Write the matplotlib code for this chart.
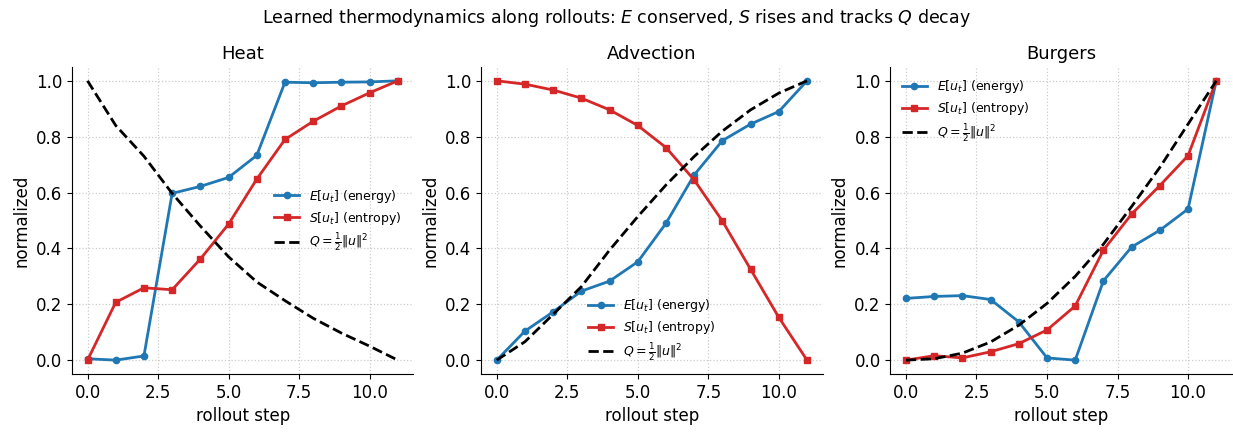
import numpy as np
import matplotlib
matplotlib.use("Agg")
import matplotlib.pyplot as plt

steps = np.arange(12)
titles = ["Heat", "Advection", "Burgers"]

heat_E = [0.005, 0.0, 0.015, 0.597, 0.622, 0.654, 0.733, 0.995, 0.993, 0.995, 0.996, 1.0]
heat_S = [0.0, 0.207, 0.259, 0.252, 0.362, 0.487, 0.648, 0.79, 0.855, 0.91, 0.957, 1.0]
heat_Q = [1.0, 0.84, 0.73, 0.597, 0.48, 0.37, 0.28, 0.213, 0.15, 0.097, 0.05, 0.0]

adv_E = [0.0, 0.104, 0.173, 0.247, 0.283, 0.352, 0.49, 0.663, 0.786, 0.845, 0.89, 1.0]
adv_S = [1.0, 0.988, 0.967, 0.938, 0.896, 0.84, 0.761, 0.645, 0.498, 0.325, 0.153, 0.0]
adv_Q = [0.0, 0.066, 0.164, 0.263, 0.394, 0.514, 0.627, 0.729, 0.82, 0.896, 0.956, 1.0]

burg_E = [0.221, 0.228, 0.231, 0.217, 0.137, 0.008, 0.0, 0.284, 0.405, 0.465, 0.541, 1.0]
burg_S = [0.0, 0.016, 0.008, 0.03, 0.059, 0.108, 0.194, 0.394, 0.523, 0.625, 0.732, 1.0]
burg_Q = [0.0, 0.005, 0.025, 0.065, 0.125, 0.203, 0.3, 0.415, 0.55, 0.69, 0.845, 1.0]

data = [(heat_E, heat_S, heat_Q), (adv_E, adv_S, adv_Q), (burg_E, burg_S, burg_Q)]
legend_locs = ["center right", "lower center", "upper left"]

fig, axes = plt.subplots(1, 3, figsize=(12.33, 4.34), dpi=100)
fig.subplots_adjust(left=0.0584, right=0.999, top=0.846, bottom=0.138, wspace=0.199)

for ax, title, (E, S, Q), loc in zip(axes, titles, data, legend_locs):
    ax.plot(steps, E, "-o", color="#1f77b4", lw=2, ms=4.5, label=r"$E[u_t]$ (energy)")
    ax.plot(steps, S, "-s", color="#d62728", lw=2, ms=4.5, label=r"$S[u_t]$ (entropy)")
    ax.plot(steps, Q, "--", color="black", lw=2, label=r"$Q=\frac{1}{2}\|u\|^2$")
    ax.set_title(title, fontsize=13)
    ax.set_xlabel("rollout step", fontsize=12)
    ax.set_ylabel("normalized", fontsize=12)
    ax.tick_params(labelsize=12)
    ax.grid(True, linestyle=":", color="#cccccc", lw=0.9)
    ax.spines["top"].set_visible(False)
    ax.spines["right"].set_visible(False)
    ax.set_ylim(-0.05, 1.05)
    ax.legend(loc=loc, frameon=False, fontsize=9, labelspacing=0.4)

fig.suptitle(r"Learned thermodynamics along rollouts: $E$ conserved, $S$ rises and tracks $Q$ decay",
             fontsize=12.5, y=0.985)
fig.savefig("out.png")
